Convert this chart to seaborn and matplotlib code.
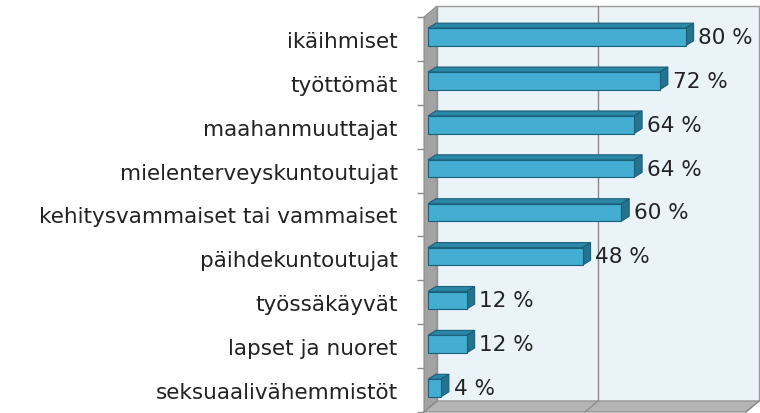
import matplotlib.pyplot as plt
import seaborn as sns
from matplotlib.patches import Polygon, Rectangle
from matplotlib.transforms import Affine2D, IdentityTransform

categories = ['ikäihmiset', 'työttömät', 'maahanmuuttajat', 'mielenterveyskuntoutujat',
              'kehitysvammaiset tai vammaiset', 'päihdekuntoutujat', 'työssäkäyvät',
              'lapset ja nuoret', 'seksuaalivähemmistöt']
values = [80, 72, 64, 64, 60, 48, 12, 12, 4]
value_labels = [f'{v} %' for v in values]

sns.set_theme(style='white')
plt.rcParams['font.family'] = ['DejaVu Sans']

fig = plt.figure(figsize=(7.6, 4.14), dpi=100)
ax = fig.add_axes([424 / 760, 1 / 414, 322 / 760, 395 / 414])
ax.patch.set_visible(False)

sns.barplot(x=values, y=categories, orient='h', color='#43ADD2', saturation=1,
            edgecolor='#1B5F78', linewidth=0.8, width=0.4, ax=ax)
bars = list(ax.patches)
n = len(categories)
ax.set_xlim(0, 100)
ax.set_ylim(n - 0.5, -0.5)

# pseudo 3d: offsets in pixels
wall = (13, 11)
bar_shift = (4, 2)
bar_depth = (8, 5)
px = ax.transData.transform


def shifted(pts, d):
    return [(x + d[0], y + d[1]) for x, y in pts]


def add_poly(pts, fc, ec, z, lw=0.8):
    ax.add_patch(Polygon(pts, closed=True, facecolor=fc, edgecolor=ec, lw=lw,
                         transform=IdentityTransform(), zorder=z, clip_on=False))


# back wall
ax.add_patch(Rectangle((0, 0), 1, 1, transform=ax.transAxes + Affine2D().translate(*wall),
                       facecolor='#EAF3F7', edgecolor='#9A9A9A', lw=1, zorder=0, clip_on=False))
ax.plot([50, 50], [n - 0.5, -0.5], color='#8A8A8A', lw=1, zorder=0.5, clip_on=False,
        transform=ax.transData + Affine2D().translate(*wall))

# left wall
front = [px((0, n - 0.5)), px((0, -0.5))]
add_poly(front + shifted(front[::-1], wall), '#A3A3A3', '#8C8C8C', 0.6)

# floor
fl = [px((0, n - 0.5)), px((100, n - 0.5))]
add_poly(fl + shifted(fl[::-1], wall), '#B4B4B4', '#8C8C8C', 0.6)
for xv in [0, 50, 100]:
    a = px((xv, n - 0.5))
    ax.plot([a[0], a[0] + wall[0]], [a[1], a[1] + wall[1]], color='#8C8C8C', lw=1,
            transform=IdentityTransform(), zorder=0.7, clip_on=False)

# bars with top and side faces
for p in bars:
    p.set_transform(ax.transData + Affine2D().translate(*bar_shift))
    p.set_zorder(3)
    x0, x1 = p.get_x(), p.get_x() + p.get_width()
    ya, yb = p.get_y(), p.get_y() + p.get_height()
    (lx, ty), (rx, by) = px((x0, ya)), px((x1, yb))
    ty, by = max(ty, by), min(ty, by)
    lx, rx, ty, by = lx + bar_shift[0], rx + bar_shift[0], ty + bar_shift[1], by + bar_shift[1]
    top = [(lx, ty), (rx, ty)]
    add_poly(top + shifted(top[::-1], bar_depth), '#2B87A6', '#1B5F78', 2.5)
    side = [(rx, by), (rx, ty)]
    add_poly(side + shifted(side[::-1], bar_depth), '#25738E', '#1B5F78', 2.6)

for i, (v, lab) in enumerate(zip(values, value_labels)):
    ax.annotate(lab, (v, i), xytext=(12, 1.5), textcoords='offset points',
                va='center', ha='left', fontsize=15.5, color='#222222', zorder=5)

ax.set_yticks(range(n))
ax.set_yticklabels(categories, fontsize=15.5, color='#222222')
for t in ax.get_yticklabels():
    t.set_transform(t.get_transform() + Affine2D().translate(0, -2))
ax.set_yticks([i - 0.5 for i in range(n + 1)], minor=True)
ax.tick_params(axis='y', which='major', length=0, pad=19)
ax.tick_params(axis='y', which='minor', length=5, width=1, color='#8C8C8C', direction='out', left=True)
ax.set_xticks([])
ax.set_xlabel(None)
ax.set_ylabel(None)
sns.despine(ax=ax, left=True, bottom=True)

fig.savefig('out.png', dpi=100)
